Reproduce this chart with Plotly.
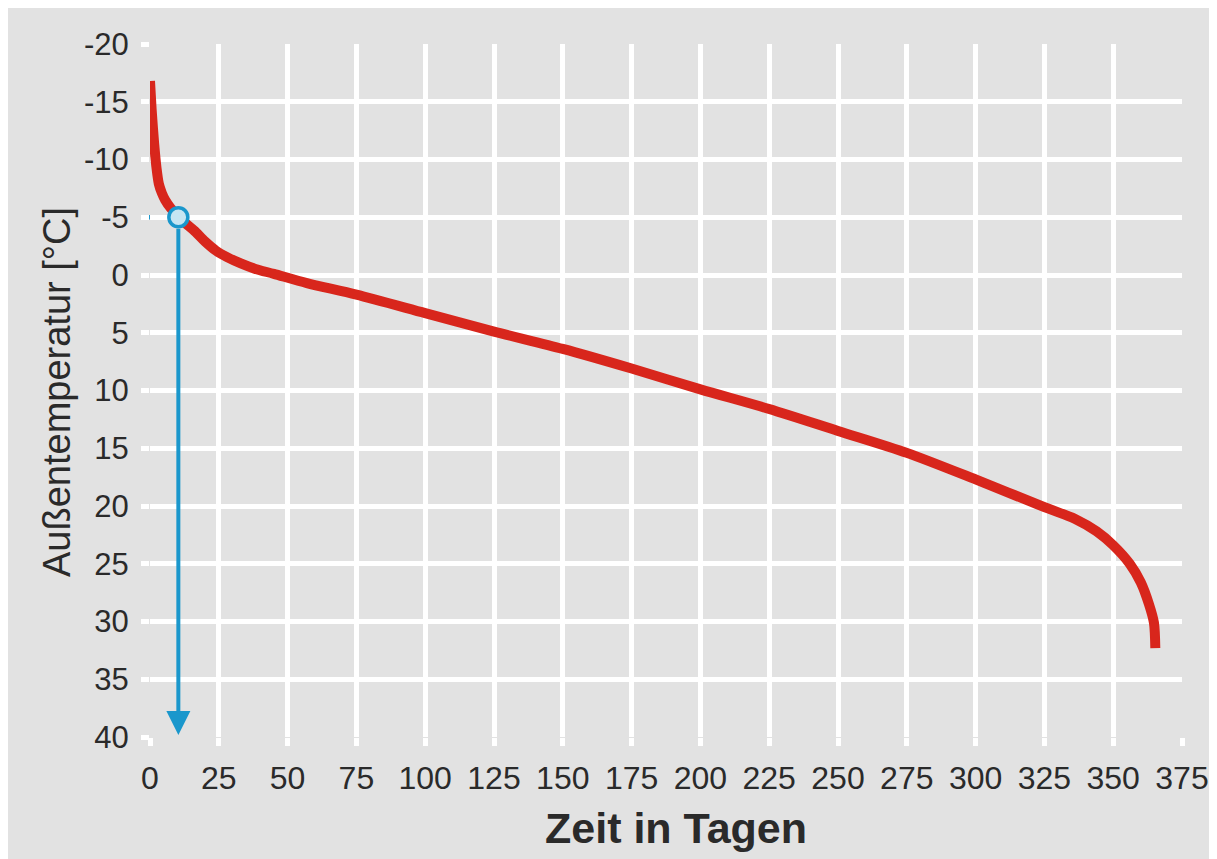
import plotly.graph_objects as go

# Data (days vs outdoor temperature, sorted duration curve)
days = [0, 0.6, 1.5, 2.4, 3.2, 4.3, 5.5, 7.5, 10.5, 13, 16, 20, 24, 28, 33, 38, 45, 57, 75,
        100, 125, 150, 175, 200, 225, 250, 275, 300, 325, 336, 344, 350, 356, 360, 363,
        364.8, 365.3]
temps = [-16.8, -14.3, -11.4, -9.2, -7.9, -7.1, -6.5, -5.8, -5.0, -4.45, -3.85, -2.9, -2.1,
         -1.55, -1.0, -0.55, -0.1, 0.7, 1.7, 3.3, 4.9, 6.4, 8.1, 9.9, 11.6, 13.5, 15.4,
         17.7, 20.1, 21.1, 22.2, 23.4, 25.0, 26.6, 28.5, 30.1, 32.3]

marker_day = [10.3]
marker_temp = [-5]

x_ticks = [0, 25, 50, 75, 100, 125, 150, 175, 200, 225, 250, 275, 300, 325, 350, 375]
y_ticks = [-20, -15, -10, -5, 0, 5, 10, 15, 20, 25, 30, 35, 40]

RED = "#d8261c"
BLUE = "#1a97cc"
BG = "#e2e2e2"
TXT = "#2a2a2a"
FONT = "Liberation Sans, Arial, Helvetica, sans-serif"

# page has an 8px body margin, so the figure is drawn offset by 8px
OFF = 8
W, H = 1217 - OFF, 859 - OFF
SL, ST = 150, 44          # plot area left/top on screen
pw, ph = 1032, 693
L, T = SL - OFF, ST - OFF
R, B = W - L - pw, H - T - ph


def px(xs):
    return (xs - SL) / pw


def py(ys):
    return (ST + ph - ys) / ph


fig = go.Figure()
fig.add_trace(go.Scatter(x=days, y=temps, mode="lines",
                         line=dict(color=RED, width=10, shape="spline", smoothing=0.8),
                         hoverinfo="skip", showlegend=False))
fig.add_trace(go.Scatter(x=marker_day, y=marker_temp, mode="markers",
                         marker=dict(size=19, color="#c6e5f2", line=dict(color=BLUE, width=3.5)),
                         cliponaxis=False, showlegend=False))

# horizontal blue line from y-axis to the marker
fig.add_shape(type="line", xref="paper", yref="y",
              x0=-9 / pw, x1=marker_day[0] / 375, y0=marker_temp[0], y1=marker_temp[0],
              line=dict(color=BLUE, width=4.5), layer="between")

# vertical arrow down to the x-axis
fig.add_annotation(x=marker_day[0], y=40, ax=marker_day[0], ay=marker_temp[0],
                   xref="x", yref="y", axref="x", ayref="y", text="",
                   showarrow=True, arrowhead=2, arrowsize=1.2, arrowwidth=4,
                   arrowcolor=BLUE, startstandoff=10, standoff=2)

# axis titles
fig.add_annotation(x=px(676), y=py(828), xref="paper", yref="paper",
                   text="<b>Zeit in Tagen</b>", showarrow=False,
                   font=dict(family=FONT, size=43, color=TXT),
                   xanchor="center", yanchor="middle")
fig.add_annotation(x=px(57), y=py(392), xref="paper", yref="paper",
                   text="Außentemperatur [°C]", showarrow=False, textangle=-90,
                   font=dict(family=FONT, size=38, color=TXT),
                   xanchor="center", yanchor="middle")

fig.update_xaxes(range=[0, 375], tickvals=x_ticks, ticktext=[str(v) for v in x_ticks],
                 showgrid=True, gridcolor="white", gridwidth=5, zeroline=False,
                 ticks="outside", ticklen=8, tickwidth=5, tickcolor="white",
                 ticklabelstandoff=5, automargin=False,
                 tickfont=dict(family=FONT, size=32, color=TXT), showline=False)
fig.update_yaxes(range=[40, -20], tickvals=y_ticks, ticktext=[str(v) for v in y_ticks],
                 showgrid=True, gridcolor="white", gridwidth=5, zeroline=False,
                 ticks="outside", ticklen=8, tickwidth=5, tickcolor="white",
                 ticklabelstandoff=6, automargin=False,
                 tickfont=dict(family=FONT, size=31, color=TXT), showline=False)

fig.update_layout(width=W, height=H, margin=dict(l=L, r=R, t=T, b=B, autoexpand=False),
                  paper_bgcolor=BG, plot_bgcolor=BG, showlegend=False)

fig.write_html("out.html")
